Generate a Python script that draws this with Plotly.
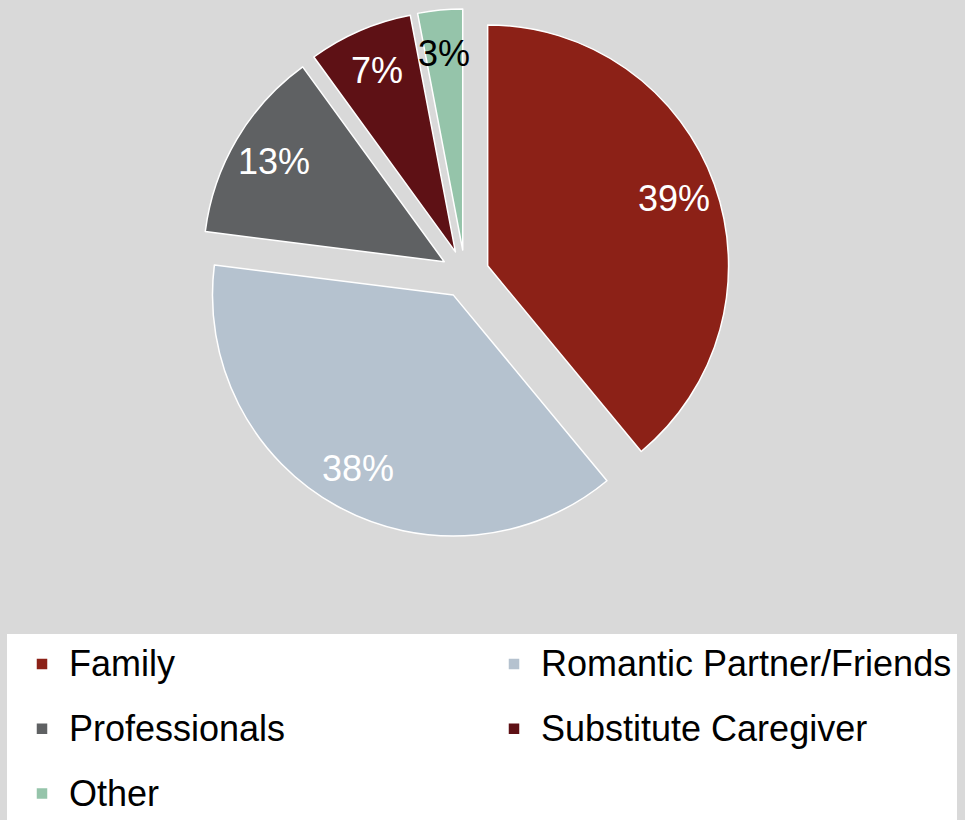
import math
import plotly.graph_objects as go

categories = ["Family", "Romantic Partner/Friends", "Professionals", "Substitute Caregiver", "Other"]
shares = [39, 38, 13, 7, 3]
colors = ["#8c2117", "#b5c2cf", "#5f6163", "#5e1115", "#95c4aa"]
label_colors = ["white", "white", "white", "white", "black"]

W, H = 965, 820
FONT = "Liberation Sans, Arial, sans-serif"
PULL = 0.1
LABEL_R = 0.82  # label distance from the slice apex, as a fraction of the radius

# pie box in pixels (layout only)
BOX_X0, BOX_X1, BOX_Y0, BOX_Y1 = 200, 730, 9, 539

legend_labels = [
    f"<span style='font-size:36px;baseline-shift:6px'>{c}</span>" for c in categories
]

n = len(shares)
fig = go.Figure(go.Pie(
    labels=legend_labels,
    values=shares,
    sort=False,
    direction="clockwise",
    rotation=0,
    pull=[PULL] * n,
    marker=dict(colors=colors, line=dict(color="white", width=1.5)),
    textinfo="none",
    domain=dict(x=[BOX_X0 / W, BOX_X1 / W], y=[1 - BOX_Y1 / H, 1 - BOX_Y0 / H]),
    hovertemplate="%{label}: %{percent}<extra></extra>",
))

# percentage labels, placed along each slice's bisector (computed from the data)
total = sum(shares)
cx = (BOX_X0 + BOX_X1) / 2
cy = (BOX_Y0 + BOX_Y1) / 2
r = (BOX_Y1 - BOX_Y0) / 2 / (1 + PULL)
cum = 0
for v, col in zip(shares, label_colors):
    mid = (cum + v / 2) / total * 2 * math.pi
    cum += v
    ax = cx + PULL * r * math.sin(mid)
    ay = cy - PULL * r * math.cos(mid)
    lx = ax + LABEL_R * r * math.sin(mid)
    ly = ay - LABEL_R * r * math.cos(mid)
    fig.add_annotation(
        x=lx / W, y=1 - ly / H, xref="paper", yref="paper",
        text=f"{round(v / total * 100)}%", showarrow=False,
        font=dict(family=FONT, size=36, color=col),
        xanchor="center", yanchor="middle",
    )

# white legend panel
fig.add_shape(
    type="rect", xref="paper", yref="paper",
    x0=7 / W, x1=957 / W, y0=-0.01, y1=1 - 634 / H,
    fillcolor="white", line=dict(width=0), layer="below",
)

fig.update_layout(
    width=W, height=H,
    margin=dict(l=0, r=0, t=0, b=0, autoexpand=False),
    paper_bgcolor="#d9d9d9",
    plot_bgcolor="#d9d9d9",
    font=dict(family=FONT, color="black"),
    showlegend=True,
    legend=dict(
        orientation="h",
        x=15 / W, xanchor="left",
        y=1 - 626.5 / H, yanchor="top",
        bgcolor="rgba(0,0,0,0)",
        font=dict(family=FONT, size=47.5, color="black"),
        entrywidth=413,
        entrywidthmode="pixels",
        itemwidth=44,
        traceorder="normal",
    ),
)

fig.write_html(
    "out.html",
    config={"displayModeBar": False},
    post_script="document.body.style.margin='0px';",
)
